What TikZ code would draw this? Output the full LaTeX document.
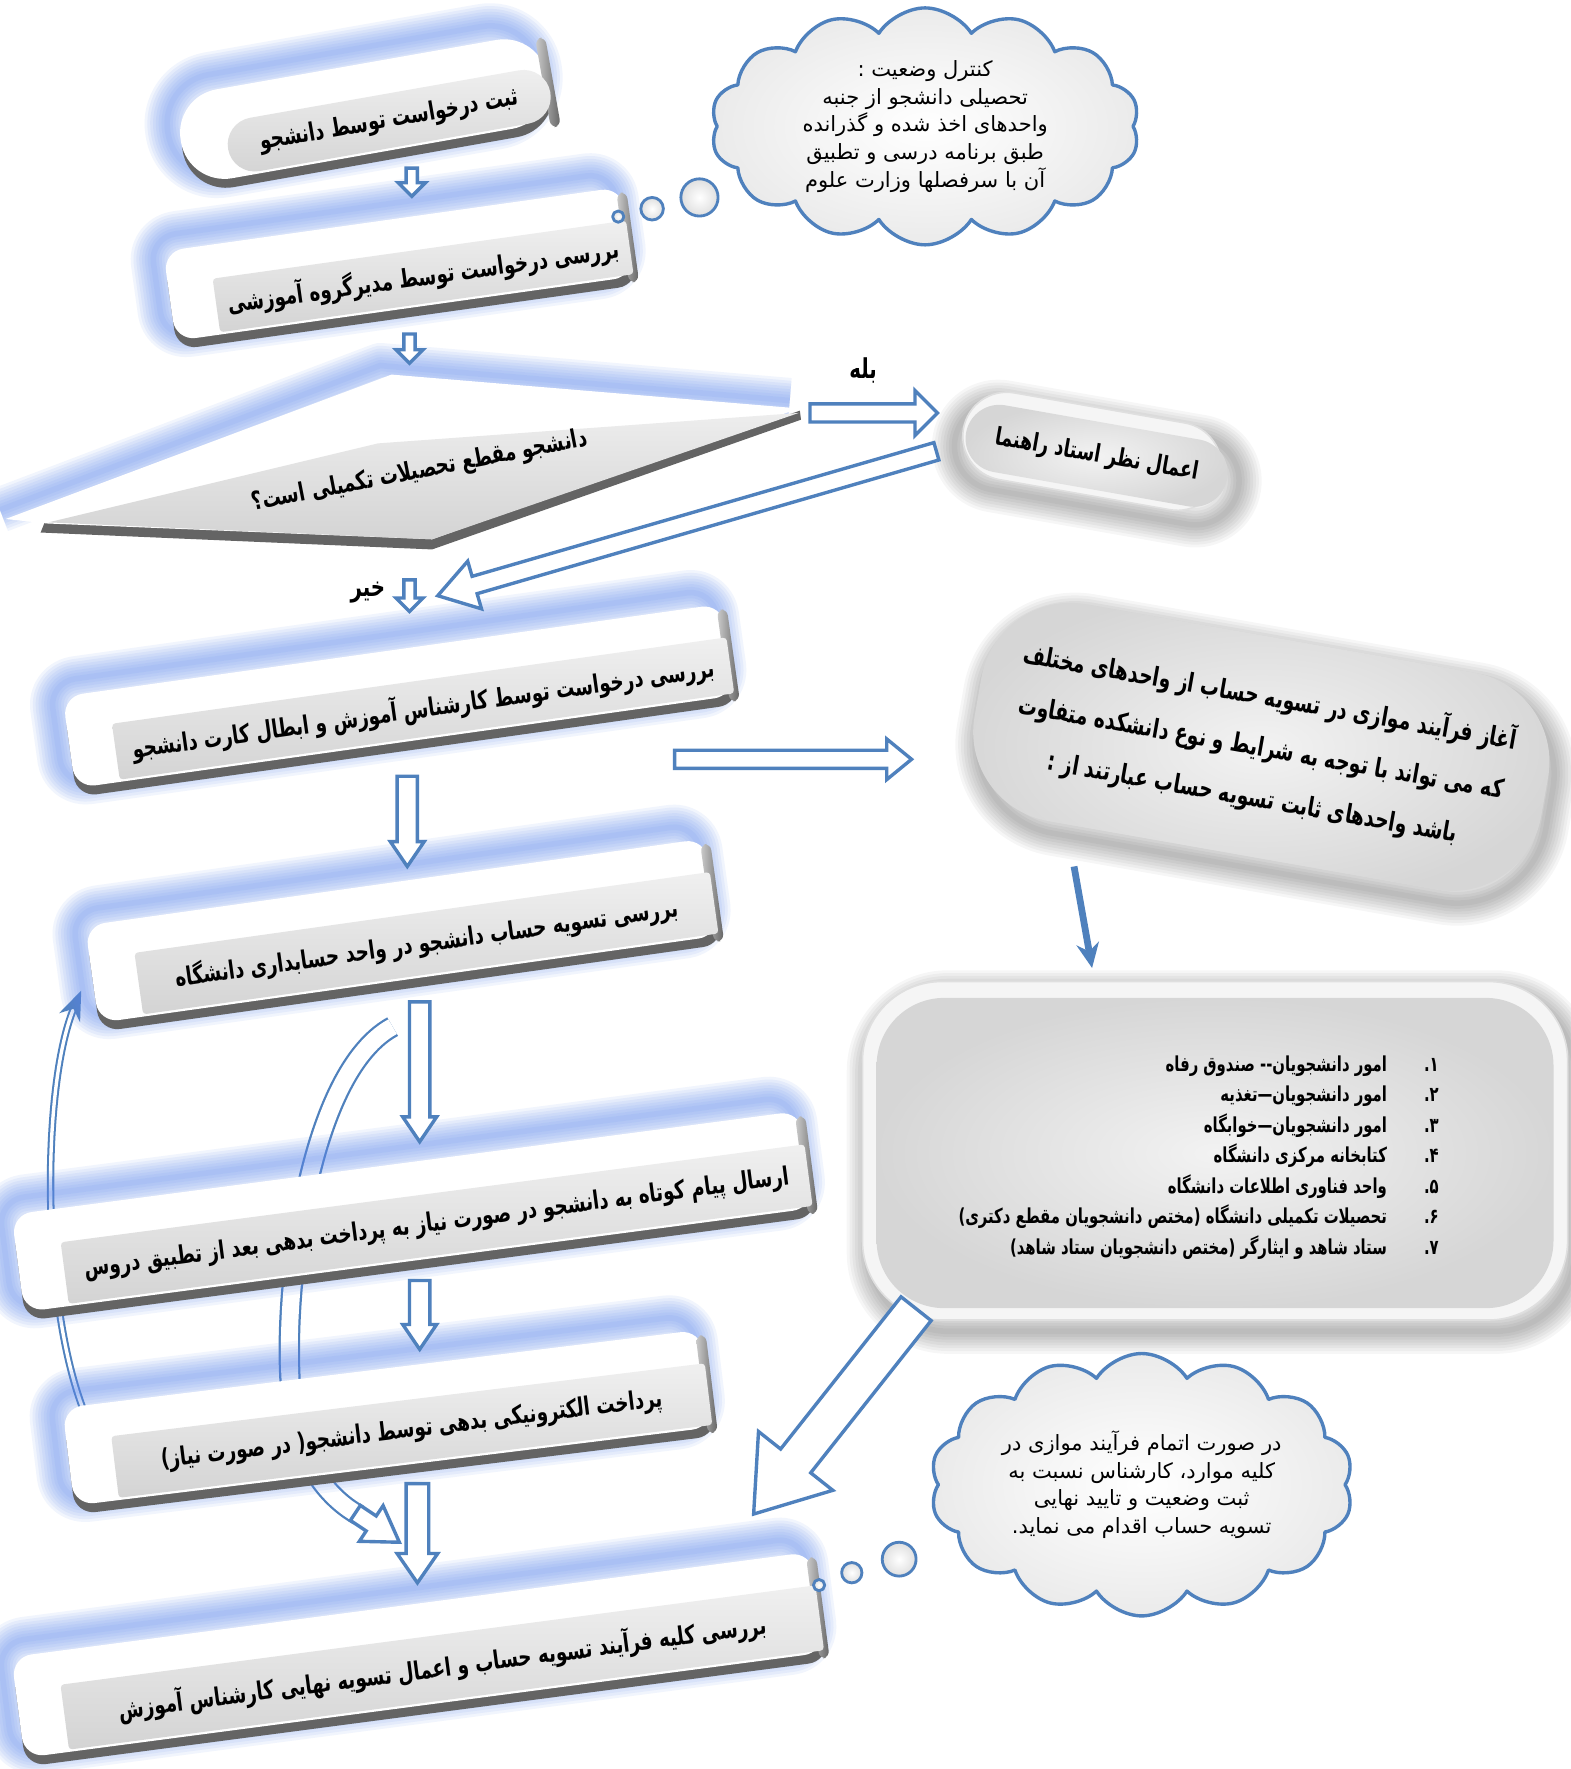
\documentclass[tikz,border=0pt]{standalone}
\usepackage{fontspec}
\usepackage{tikz}
\usetikzlibrary{arrows.meta, calc, shapes.symbols, shapes.misc}
\TeXXeTstate=1
\newfontfamily\fa[Script=Arabic]{DejaVu Sans}
\newfontfamily\faN[Script=Arabic, FakeStretch=0.72]{DejaVu Sans}
\definecolor{glowBlue}{RGB}{95,140,238}
\definecolor{arrowBlue}{RGB}{79,129,189}
\definecolor{edgeGray}{RGB}{100,100,100}
\tikzset{
	boxface/.style={top color=gray!12, bottom color=gray!34, inner sep=0pt,
		font=\faN\bfseries\fontsize{6.4}{7.5}\selectfont},
	hollowarrow/.style={draw=arrowBlue, fill=white, line width=0.3mm, line join=miter},
	cloudbox/.style={cloud, cloud puffs=14, cloud puff arc=115, aspect=1.8, draw=arrowBlue,
		line width=0.3mm, inner color=white, outer color=gray!16, inner sep=0pt, align=center,
		font=\fa\fontsize{5.3}{7}\selectfont},
	bubble/.style={circle, draw=arrowBlue, line width=0.25mm, inner color=white, outer color=gray!25,
		inner sep=0pt},
	softface/.style={inner color=gray!10, outer color=gray!32, inner sep=0pt, align=center,
		font=\faN\bfseries\fontsize{6.6}{12.8}\selectfont},
}
% three dimensional step box: rounding, name, x, y, angle, width, height, text
\newcommand{\StepBox}[8][0.3mm]{
	\def\lround{#1}
	\def\lx{#3}
	\def\ly{#4}
	\def\lrotate{#5}
	\def\lw{#6}
	\def\lh{#7}
	\begin{scope}[shift={(\lx,\ly)}, rotate=\lrotate]
		\foreach \g in {1,...,8}
			\draw[glowBlue, opacity=0.085, line width=\g*0.5mm, rounded corners=\lround+2mm]
				({-\lw/2-50},{-\lh/2-44}) rectangle ({\lw/2-6},{\lh/2-2});
		\fill[edgeGray, rounded corners=\lround+1.5mm] ({-\lw/2-40},{-\lh/2-20}) rectangle ({\lw/2+3},{\lh/2+10});
		\fill[white, rounded corners=\lround+1.5mm] ({-\lw/2-40},{-\lh/2-30}) rectangle ({\lw/2},{\lh/2+2});
		\shade[left color=gray!40, right color=edgeGray, rounded corners=0.6mm]
			({\lw/2-5},{-\lh/2-25}) rectangle ({\lw/2+4},{\lh/2+7});
	\end{scope}
	\node[boxface, rounded corners=\lround, rotate=\lrotate, minimum width=\lw*0.1mm,
		minimum height=\lh*0.1mm] (#2) at (\lx,\ly) {#8};
}
% hollow block arrow: from, to, shaft half width, head half width, head length
\newcommand{\HollowArrow}[5]{
	\draw[hollowarrow] let \p1=($(#2)-(#1)$), \n1={atan2(\y1,\x1)},
		\n2={veclen(\x1,\y1)-#5*0.28453} in
		($(#1)+(\n1+90:#3*0.1mm)$) -- ++(\n1:{\n2*1pt}) -- ++(\n1+90:{(#4-#3)*0.1mm}) -- (#2)
		-- ($(#1)+(\n1:{\n2*1pt})+(\n1-90:#4*0.1mm)$) -- ++(\n1+90:{(#4-#3)*0.1mm})
		-- ($(#1)+(\n1-90:#3*0.1mm)$) -- cycle;
}
% soft gray shadow under a rounded face
\newcommand{\SoftShadow}[6]{
	\begin{scope}[shift={(#1,#2)}, rotate=#3]
		\foreach \g in {1,...,8}
			\draw[black, opacity=0.035, line width=\g*0.5mm, rounded corners=#6]
				({-#4/2+6},{-#5/2+10}) rectangle ({#4/2+6},{#5/2+10});
	\end{scope}
}

\begin{document}
\begin{tikzpicture}[x=0.1mm, y=-0.1mm, line join=round]
	\useasboundingbox (0,0) rectangle (1392,1568);
	\fill[white] (0,0) rectangle (1392,1568);

	% loops behind the boxes
	\draw[arrowBlue, line width=0.2mm, double=white, double distance=1.5mm]
		(348,910) .. controls (265,955) and (245,1190) .. (262,1262) .. controls (272,1305) and (295,1330) .. (318,1343);
	\coordinate (loopS) at (315,1341);
	\coordinate (loopE) at (354,1367);
	\HollowArrow{loopS}{loopE}{8}{19}{30}
	\draw[arrowBlue, line width=0.18mm, double=white, double distance=0.3mm]
		(84,1272) .. controls (35,1180) and (35,960) .. (67,890);
	\coordinate (backL) at (72,878);
	\draw[arrowBlue, line width=0.3mm, -{Stealth[length=2.6mm, width=2mm]}] (66,892) -- (backL);

	% main column
	\StepBox[2.4mm]{b1}{345}{107}{10}{290}{48}{\beginR ثبت درخواست توسط دانشجو\endR}
	\StepBox{b2}{375}{245}{8}{370}{48}{\beginR بررسی درخواست توسط مدیرگروه آموزشی\endR}

	% decision
	\foreach \g in {1,...,8}
		\draw[glowBlue, opacity=0.085, line width=\g*0.5mm, line join=round]
			(0,452) -- (337,324) -- (700,355);
	\fill[edgeGray] (36,472) -- (383,487) -- (710,372) -- (709,364) -- (383,476) -- (40,462) -- cycle;
	\fill[white] (5,460) -- (347,332) -- (708,362) -- (383,478) -- (42,464) -- cycle;
	\shade[top color=gray!14, bottom color=gray!34] (43,463) -- (335,393) -- (708,366) -- (383,478) -- cycle;
	\node[inner sep=0pt, rotate=11, font=\faN\bfseries\fontsize{6.4}{7.5}\selectfont] (dec) at (372,418)
		{\beginR دانشجو مقطع تحصیلات تکمیلی است؟\endR};

	\StepBox{b3}{375}{628}{8}{550}{50}{\beginR بررسی درخواست توسط کارشناس آموزش و ابطال کارت دانشجو\endR}
	\StepBox{b4}{378}{836}{8}{515}{55}{\beginR بررسی تسویه حساب دانشجو در واحد حسابداری دانشگاه\endR}
	\StepBox{b5}{387}{1085}{7.5}{665}{55}{\beginR ارسال پیام کوتاه به دانشجو در صورت نیاز به پرداخت بدهی بعد از تطبیق دروس\endR}
	\StepBox{b6}{365}{1268}{7}{530}{55}{\beginR پرداخت الکترونیکی بدهی توسط دانشجو( در صورت نیاز)\endR}
	\StepBox{b7}{392}{1478}{7.5}{675}{58}{\beginR بررسی کلیه فرآیند تسویه حساب و اعمال تسویه نهایی کارشناس آموزش\endR}

	% adviser
	\SoftShadow{968}{400}{-10}{255}{78}{3.9mm}
	\node[rounded rectangle, rotate=-10, fill=gray!8, draw=gray!25, minimum width=25.5mm,
		minimum height=7.8mm] (advRim) at (968,400) {};
	\node[rounded rectangle, rotate=-10, softface, font=\faN\bfseries\fontsize{6.2}{7}\selectfont,
		minimum width=23.5mm, minimum height=6mm] (adv) at (972,404) {\beginR اعمال نظر استاد راهنما\endR};

	% parallel process
	\SoftShadow{1118}{662}{-10}{510}{195}{8mm}
	\node[softface, rotate=-10, rounded corners=8mm, minimum width=51mm, minimum height=19.5mm]
		(par) at (1118,662) {\beginR آغاز فرآیند موازی در تسویه حساب از واحدهای مختلف\endR\\
		\beginR که می تواند با توجه به شرایط و نوع دانشکده متفاوت\endR\\
		\beginR باشد واحدهای ثابت تسویه حساب عبارتند از :\endR};

	% fixed units
	\SoftShadow{1077}{1020}{0}{625}{300}{7mm}
	\node[fill=gray!8, draw=gray!25, rounded corners=7mm, minimum width=62.5mm, minimum height=30mm]
		(unitsRim) at (1077,1020) {};
	\node[softface, rounded corners=6mm, minimum width=60mm, minimum height=27.5mm] (units) at (1077,1022) {};
	\node[anchor=east, align=right, inner sep=0pt, font=\faN\bfseries\fontsize{5.2}{7.7}\selectfont] (unitList) at (1276,1026)
		{\beginR ۱.\hspace{1.8em}امور دانشجویان-- صندوق رفاه\endR\\
		\beginR ۲.\hspace{1.8em}امور دانشجویان—تغذیه\endR\\
		\beginR ۳.\hspace{1.8em}امور دانشجویان—خوابگاه\endR\\
		\beginR ۴.\hspace{1.8em}کتابخانه مرکزی دانشگاه\endR\\
		\beginR ۵.\hspace{1.8em}واحد فناوری اطلاعات دانشگاه\endR\\
		\beginR ۶.\hspace{1.8em}تحصیلات تکمیلی دانشگاه (مختص دانشجویان مقطع دکتری)\endR\\
		\beginR ۷.\hspace{1.8em}ستاد شاهد و ایثارگر (مختص دانشجویان ستاد شاهد)\endR};

	% clouds
	\node[cloudbox, minimum width=38mm, minimum height=21mm] (cloudA) at (820,112)
		{\beginR کنترل وضعیت :\endR\\
		\beginR تحصیلی دانشجو از جنبه\endR\\
		\beginR واحدهای اخذ شده و  گذرانده\endR\\
		\beginR طبق برنامه درسی   و تطبیق\endR\\
		\beginR آن با سرفصلها وزارت علوم\endR};
	\node[bubble, minimum size=1mm] (bubA1) at (548,192) {};
	\node[bubble, minimum size=2mm] (bubA2) at (578,185) {};
	\node[bubble, minimum size=3.3mm] (bubA3) at (620,175) {};

	\node[cloudbox, minimum width=37.5mm, minimum height=21.5mm] (cloudB) at (1012,1316)
		{\beginR در صورت اتمام فرآیند موازی در\endR\\
		\beginR کلیه موارد، کارشناس نسبت به\endR\\
		\beginR ثبت وضعیت و تایید نهایی\endR\\
		\beginR تسویه حساب اقدام می نماید.\endR};
	\node[bubble, minimum size=1mm] (bubB1) at (726,1405) {};
	\node[bubble, minimum size=1.8mm] (bubB2) at (755,1394) {};
	\node[bubble, minimum size=3mm] (bubB3) at (797,1382) {};

	% connectors
	\coordinate (a1s) at (365,149);
	\coordinate (a1e) at (365,174);
	\coordinate (a2s) at (363,296);
	\coordinate (a2e) at (363,322);
	\coordinate (yesS) at (718,366);
	\coordinate (yesE) at (831,366);
	\coordinate (backS) at (830,400);
	\coordinate (backE) at (388,528);
	\coordinate (noS) at (363,514);
	\coordinate (noE) at (363,542);
	\coordinate (a3s) at (361,688);
	\coordinate (a3e) at (361,768);
	\coordinate (parS) at (598,673);
	\coordinate (parE) at (808,673);
	\coordinate (a4s) at (372,888);
	\coordinate (a4e) at (372,1012);
	\coordinate (a5s) at (372,1135);
	\coordinate (a5e) at (372,1196);
	\coordinate (a6s) at (370,1315);
	\coordinate (a6e) at (370,1403);
	\coordinate (endS) at (812,1160);
	\coordinate (endE) at (668,1342);
	\coordinate (thinS) at (952,768);
	\coordinate (thinE) at (968,858);

	\HollowArrow{a1s}{a1e}{5}{12}{12}
	\HollowArrow{a2s}{a2e}{5}{12}{12}
	\HollowArrow{yesS}{yesE}{8}{20}{20}
	\HollowArrow{backS}{backE}{8}{22}{34}
	\HollowArrow{noS}{noE}{5}{12}{12}
	\HollowArrow{a3s}{a3e}{9}{15}{22}
	\HollowArrow{parS}{parE}{8}{18}{22}
	\HollowArrow{a4s}{a4e}{9}{15}{22}
	\HollowArrow{a5s}{a5e}{9}{15}{22}
	\HollowArrow{a6s}{a6e}{10}{18}{26}
	\HollowArrow{endS}{endE}{17}{42}{60}
	\draw[arrowBlue, line width=0.6mm, -{Stealth[length=2.2mm, width=2mm]}] (thinS) -- (thinE);

	\node[font=\faN\bfseries\fontsize{6.9}{8}\selectfont] (yes) at (765,328) {\beginR بله\endR};
	\node[font=\faN\bfseries\fontsize{6.9}{8}\selectfont] (no) at (326,525) {\beginR خیر\endR};
\end{tikzpicture}
\end{document}
